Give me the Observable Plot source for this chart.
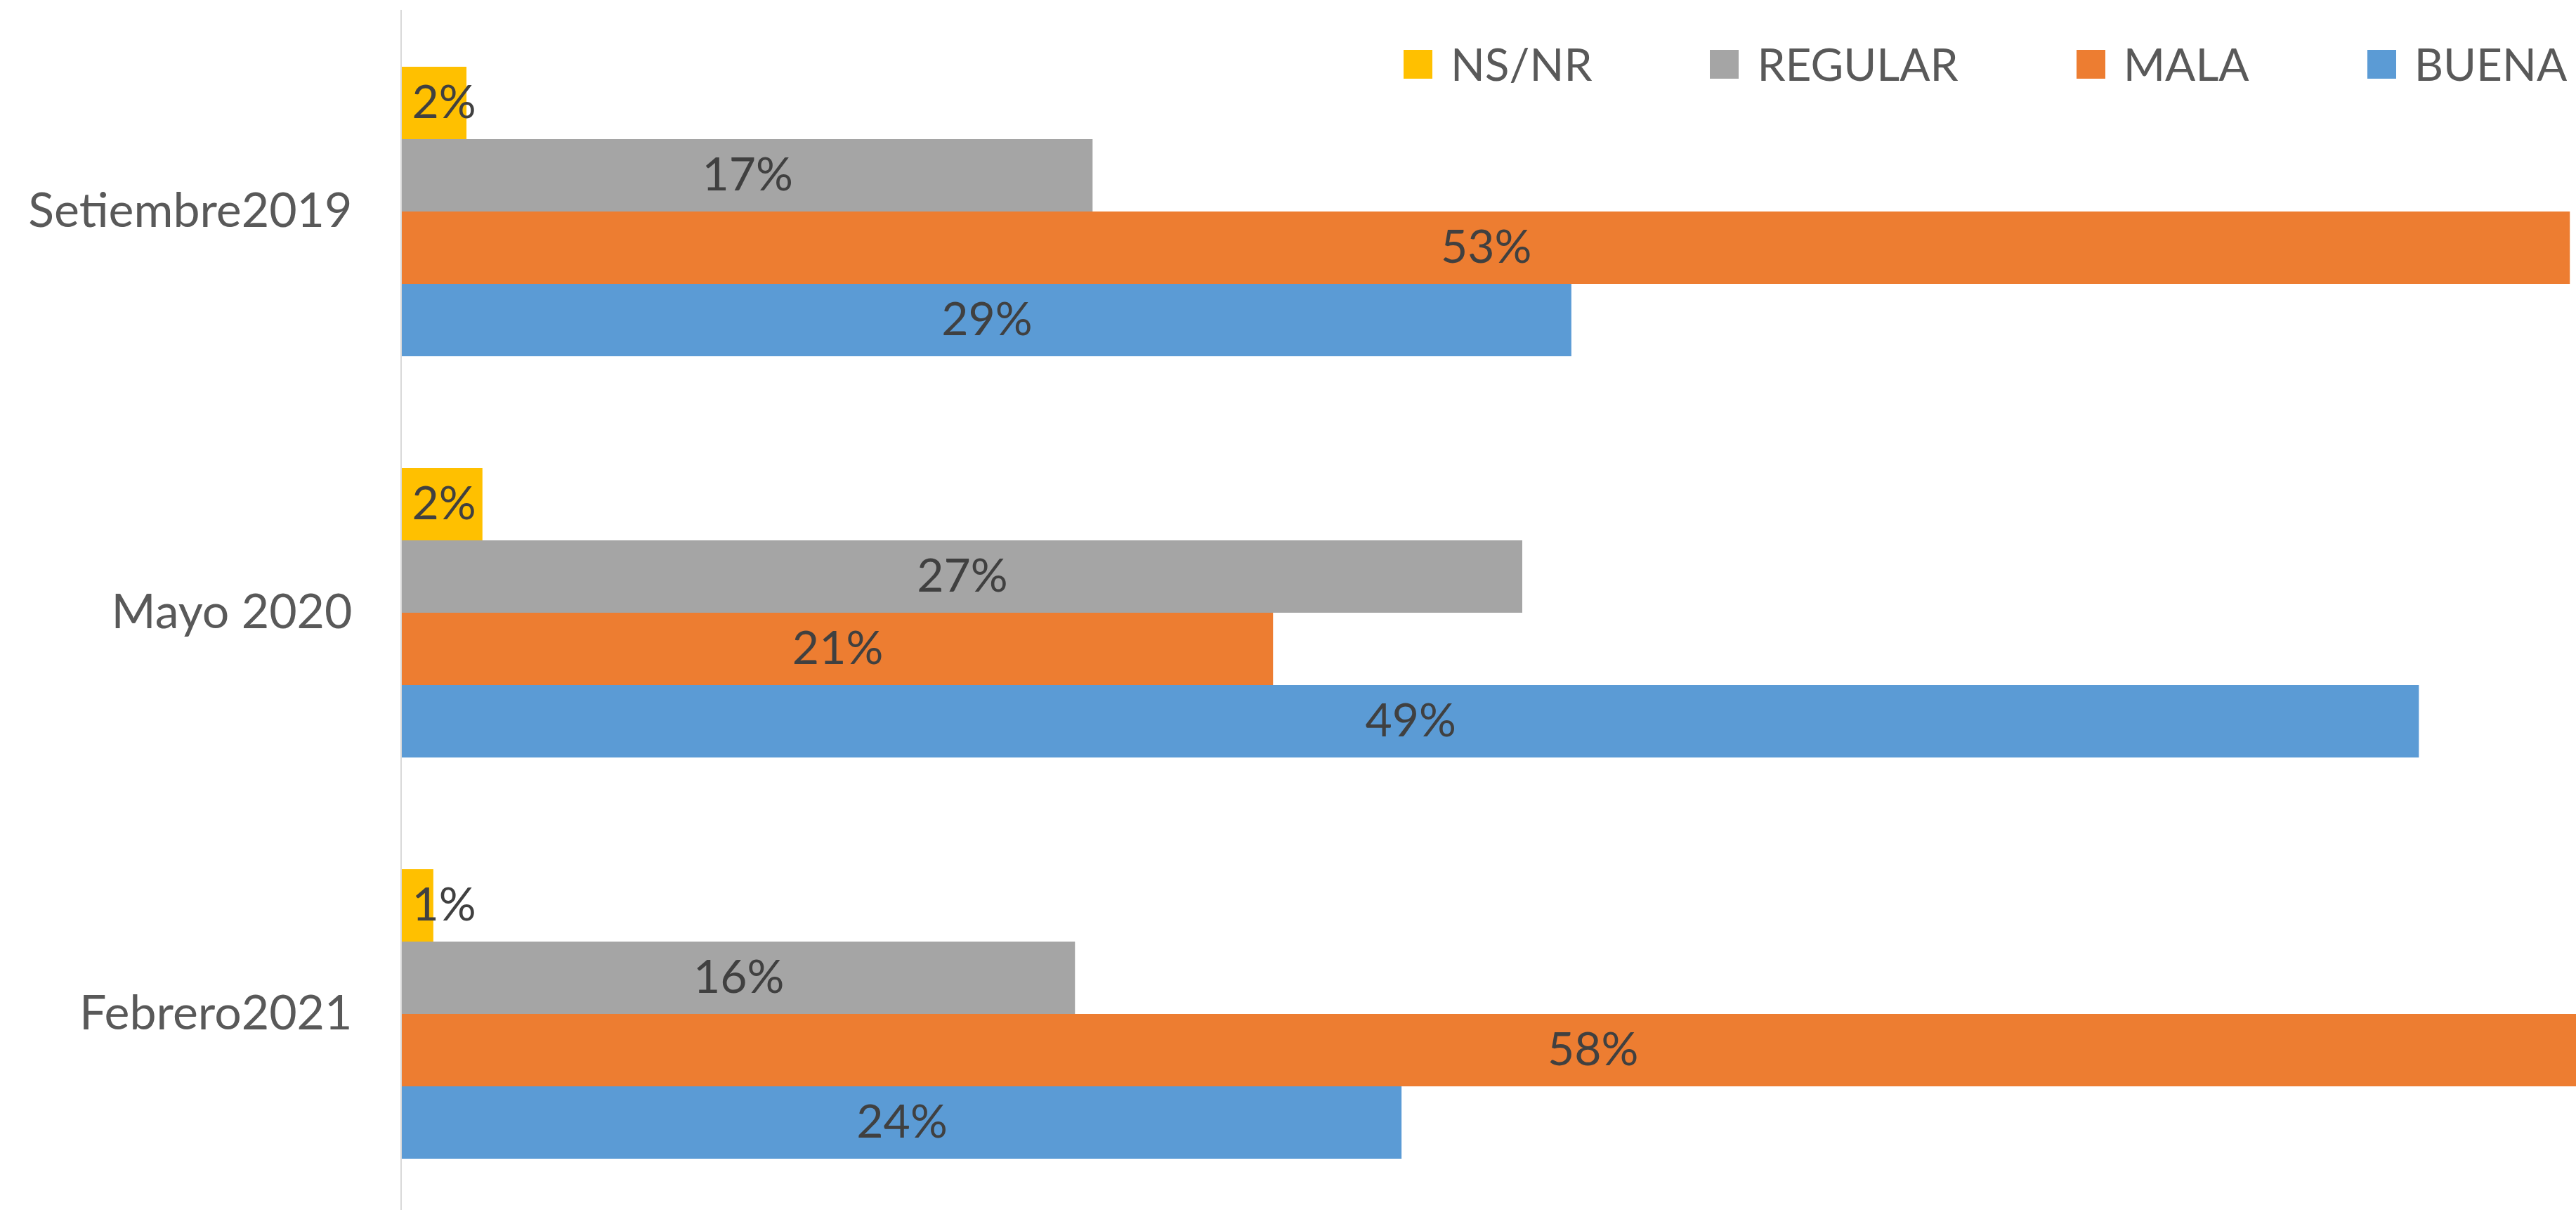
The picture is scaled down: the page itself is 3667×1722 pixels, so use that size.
<!DOCTYPE html>
<html>
<head>
<meta charset="utf-8">
<script src="https://cdn.jsdelivr.net/npm/d3@7"></script>
<script src="https://cdn.jsdelivr.net/npm/@observablehq/plot@0.6"></script>
<style>
  html, body { margin: 0; padding: 0; background: white; overflow: hidden; }
  #wrap { position: relative; width: 3667px; height: 1722px; }
  #legend { position: absolute; left: 1998px; top: 59px; display: flex; align-items: center;
            font-family: Lato, sans-serif; font-size: 64px; line-height: 64px; color: #595959; white-space: nowrap; }
  #legend .item { display: flex; align-items: center; margin-right: 168px; }
  #legend .item:last-child { margin-right: 0; }
  #legend .sw { width: 41px; height: 41px; margin-right: 26px; }
</style>
</head>
<body>
<div id="wrap"></div>
<script>
const periods = ["Setiembre2019", "Mayo 2020", "Febrero2021"];
const series = ["NS/NR", "REGULAR", "MALA", "BUENA"];
const colors = ["#FFC000", "#A5A5A5", "#ED7D31", "#5B9BD5"];
const nsnr    = [1.58, 1.97, 0.77];
const regular = [16.88, 27.38, 16.45];
const mala    = [52.98, 21.29, 58.2];
const buena   = [28.58, 49.29, 24.43];
const xMax = 53.13;
const smallLimit = 5; // labels of bars narrower than this sit at the axis start

const valuesBySeries = [nsnr, regular, mala, buena];
const rows = periods.flatMap((p, i) =>
  series.map((s, j) => ({period: p, series: s, value: valuesBySeries[j][i]})));
const fmt = d => Math.round(d.value) + "%";

const plot = Plot.plot({
  width: 3667,
  height: 1722,
  marginLeft: 572,
  marginRight: 0,
  marginTop: 14,
  marginBottom: 0,
  style: {fontFamily: "Lato, sans-serif", fontSize: "68px", color: "#595959", background: "white"},
  facet: {data: rows, y: "period"},
  fy: {domain: periods, paddingInner: 0.2727, paddingOuter: 0.1294, align: 0.527,
       label: null, axis: "left", tickSize: 0, tickPadding: 71},
  y: {domain: series, padding: 0, axis: null},
  x: {domain: [0, xMax], axis: null},
  color: {domain: series, range: colors},
  marks: [
    Plot.barX(rows, {y: "series", x: "value", fill: "series", clip: true}),
    Plot.text(rows, {filter: d => d.value >= smallLimit, y: "series", x: d => d.value / 2, text: fmt,
                     fill: "#404040", fontSize: 66}),
    Plot.text(rows, {filter: d => d.value < smallLimit, y: "series", x: () => 0, text: fmt,
                     textAnchor: "start", dx: 14, fill: "#404040", fontSize: 66})
  ]
});

const xs = plot.scale("x");
d3.select(plot).append("line")
  .attr("x1", xs.apply(0) - 1).attr("x2", xs.apply(0) - 1)
  .attr("y1", 14).attr("y2", 1722)
  .attr("stroke", "#D9D9D9").attr("stroke-width", 2);

const wrap = document.getElementById("wrap");
wrap.appendChild(plot);

const legend = d3.select(wrap).append("div").attr("id", "legend");
series.forEach((s, i) => {
  const it = legend.append("div").attr("class", "item");
  it.append("div").attr("class", "sw").style("background", colors[i]);
  it.append("span").text(s);
});
</script>
</body>
</html>
